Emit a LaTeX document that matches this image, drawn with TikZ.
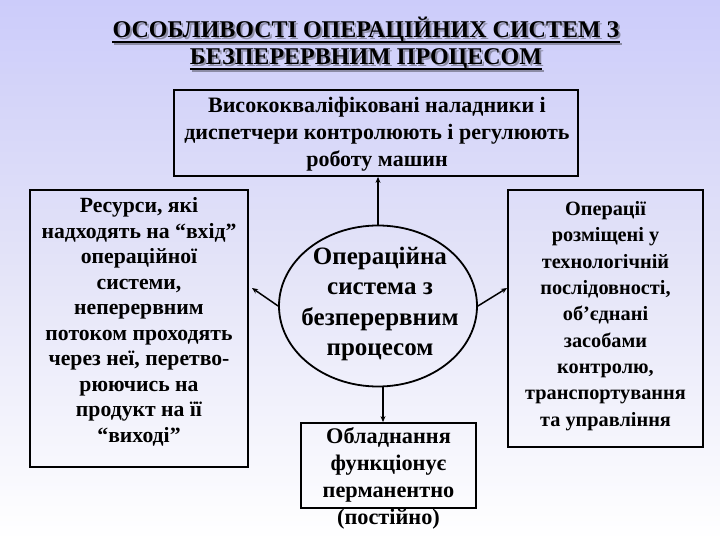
\documentclass[tikz,border=0pt]{standalone}
\usepackage{fontspec}
\setmainfont{Liberation Serif}[BoldFont={Liberation Serif Bold}]
\usetikzlibrary{shapes.geometric,arrows.meta,calc}
\definecolor{bgtop}{RGB}{204,204,250}
\definecolor{bgmid}{RGB}{228,228,248}
\definecolor{shadowc}{RGB}{140,140,165}
\tikzset{
  x=1pt,y=1pt,
  boxst/.style={draw=black,line width=1.8pt,rectangle,inner sep=0},
  txt/.style={align=center,inner sep=0},
  ttl/.style={anchor=base,inner sep=0,font=\bfseries\fontsize{24}{28}\selectfont},
  conn/.style={line width=1.5pt,-{Stealth[length=6pt,width=5pt]}},
}
\begin{document}
\begin{tikzpicture}
\useasboundingbox (0,0) rectangle (720,-540);
\shade[top color=bgtop,bottom color=white,middle color=bgmid] (0,0) rectangle (720,-540);
% title with shadow
\node[ttl,text=shadowc] (t1s) at (368,-40) {ОСОБЛИВОСТІ ОПЕРАЦІЙНИХ СИСТЕМ З};
\node[ttl,text=shadowc] (t2s) at (368,-67) {БЕЗПЕРЕРВНИМ ПРОЦЕСОМ};
\draw[shadowc,line width=1.5pt] ([yshift=-4]t1s.base west) -- ([yshift=-4]t1s.base east);
\draw[shadowc,line width=1.5pt] ([yshift=-4]t2s.base west) -- ([yshift=-4]t2s.base east);
\node[ttl] (t1) at (366,-38) {ОСОБЛИВОСТІ ОПЕРАЦІЙНИХ СИСТЕМ З};
\node[ttl] (t2) at (366,-65) {БЕЗПЕРЕРВНИМ ПРОЦЕСОМ};
\draw[black,line width=1.5pt] ([yshift=-4]t1.base west) -- ([yshift=-4]t1.base east);
\draw[black,line width=1.5pt] ([yshift=-4]t2.base west) -- ([yshift=-4]t2.base east);
% boxes
\node[boxst,minimum width=404,minimum height=86] (top) at (376,-133) {};
\node[txt,font=\bfseries\fontsize{22}{27}\selectfont] (toptxt) at (377,-134) {Висококваліфіковані наладники і\\диспетчери контролюють і регулюють\\роботу машин};
\node[boxst,minimum width=218,minimum height=277] (left) at (139,-328.5) {};
\node[txt,font=\bfseries\fontsize{21.7}{25.5}\selectfont] (lefttxt) at (139,-322) {Ресурси, які\\надходять на “вхід”\\операційної\\системи,\\неперервним\\потоком проходять\\через неї, перетво-\\рюючись на\\продукт на її\\“виході”};
\node[boxst,minimum width=195,minimum height=257] (right) at (605.5,-318.5) {};
\node[txt,font=\bfseries\fontsize{20.3}{26.3}\selectfont] (righttxt) at (605.5,-316) {Операції\\розміщені у\\технологічній\\послідовності,\\об’єднані\\засобами\\контролю,\\транспортування\\та управління};
\node[boxst,minimum width=175,minimum height=85] (bot) at (388.5,-465.5) {};
\node[txt,font=\bfseries\fontsize{22.3}{27}\selectfont] (bottxt) at (388.5,-478) {Обладнання\\функціонує\\перманентно\\(постійно)};
% circle
\node[draw=black,line width=1.8pt,ellipse,minimum width=198,minimum height=161,inner sep=0] (circ) at (378,-306) {};
\node[txt,font=\bfseries\fontsize{25}{30.5}\selectfont] (circtxt) at (380,-304) {Операційна\\система з\\безперервним\\процесом};
% connectors
\coordinate (lt) at (252,-288);
\draw[conn] (circ.west) -- (lt);
\draw[conn] (circ.east) -- ([yshift=30.5]right.west);
\draw[conn] (circ.north) -- (circ.north |- top.south);
\draw[conn] ([xshift=5]circ.south) -- ([xshift=5]circ.south |- bot.north);
\end{tikzpicture}
\end{document}
